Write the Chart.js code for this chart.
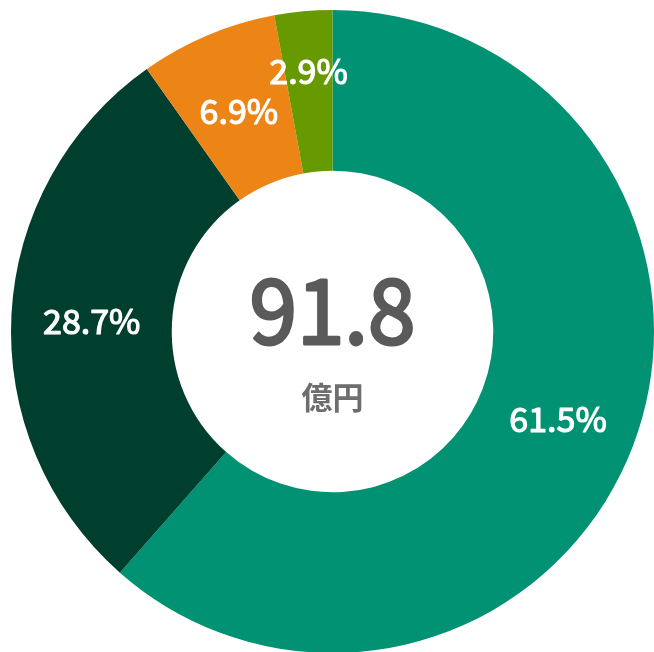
<!DOCTYPE html>
<html>
<head>
<meta charset="utf-8">
<script src="https://cdn.jsdelivr.net/npm/chart.js@4"></script>
<style>
    html, body { margin: 0; padding: 0; background: #fff; overflow: hidden; }
    #wrap { position: absolute; left: 0; top: 0; width: 665px; height: 663px; }
</style>
</head>
<body>
<div id="wrap"><canvas id="share-doughnut"></canvas></div>
<script>
const categories = ['A', 'B', 'C', 'D'];
const shares = [61.5, 28.7, 6.9, 2.9];
const sliceColors = ['#009273', '#003F2D', '#ED8416', '#679A00'];
const totalValue = '91.8';
const totalUnit = '億円';

const FONT = "'Noto Sans CJK JP', 'Noto Sans', sans-serif";

// regular weight plus a thin stroke of the same colour ~ medium weight
function heavyText(ctx, text, x, y, color, stroke) {
    ctx.fillStyle = color;
    ctx.strokeStyle = color;
    ctx.lineWidth = stroke;
    ctx.lineJoin = 'round';
    ctx.strokeText(text, x, y);
    ctx.fillText(text, x, y);
}

// percentage labels on each slice
const sliceLabels = {
    id: 'sliceLabels',
    afterDatasetsDraw(chart) {
        const ctx = chart.ctx;
        const meta = chart.getDatasetMeta(0);
        ctx.save();
        ctx.font = '400 34px ' + FONT;
        ctx.textAlign = 'center';
        ctx.textBaseline = 'middle';
        meta.data.forEach((arc, i) => {
            const p = arc.getProps(['x', 'y', 'startAngle', 'endAngle', 'innerRadius', 'outerRadius']);
            const mid = (p.startAngle + p.endAngle) / 2;
            let r = (p.innerRadius + p.outerRadius) / 2;
            if (shares[i] < 5) r = p.outerRadius * 0.82;
            heavyText(ctx, shares[i].toFixed(1) + '%', p.x + Math.cos(mid) * r, p.y + Math.sin(mid) * r + 2, '#ffffff', 1.2);
        });
        ctx.restore();
    }
};

// total in the middle
const centerText = {
    id: 'centerText',
    afterDraw(chart) {
        const ctx = chart.ctx;
        const arc = chart.getDatasetMeta(0).data[0];
        ctx.save();
        ctx.textAlign = 'center';
        ctx.textBaseline = 'middle';
        ctx.font = '400 90px ' + FONT;
        ctx.save();
        ctx.translate(arc.x, arc.y - 22);
        ctx.scale(0.95, 1);
        heavyText(ctx, totalValue, 0, 0, '#5a5a5a', 3);
        ctx.restore();
        ctx.font = '700 31px ' + FONT;
        ctx.fillStyle = '#6e6e6e';
        ctx.fillText(totalUnit, arc.x, arc.y + 66);
        ctx.restore();
    }
};

new Chart(document.getElementById('share-doughnut').getContext('2d'), {
    type: 'doughnut',
    data: {
        labels: categories,
        datasets: [{
            data: shares,
            backgroundColor: sliceColors,
            borderWidth: 0
        }]
    },
    options: {
        responsive: true,
        maintainAspectRatio: false,
        animation: false,
        cutout: '50%',
        layout: { padding: 10 },
        plugins: {
            legend: { display: false },
            tooltip: { enabled: false }
        }
    },
    plugins: [sliceLabels, centerText]
});
</script>
</body>
</html>
